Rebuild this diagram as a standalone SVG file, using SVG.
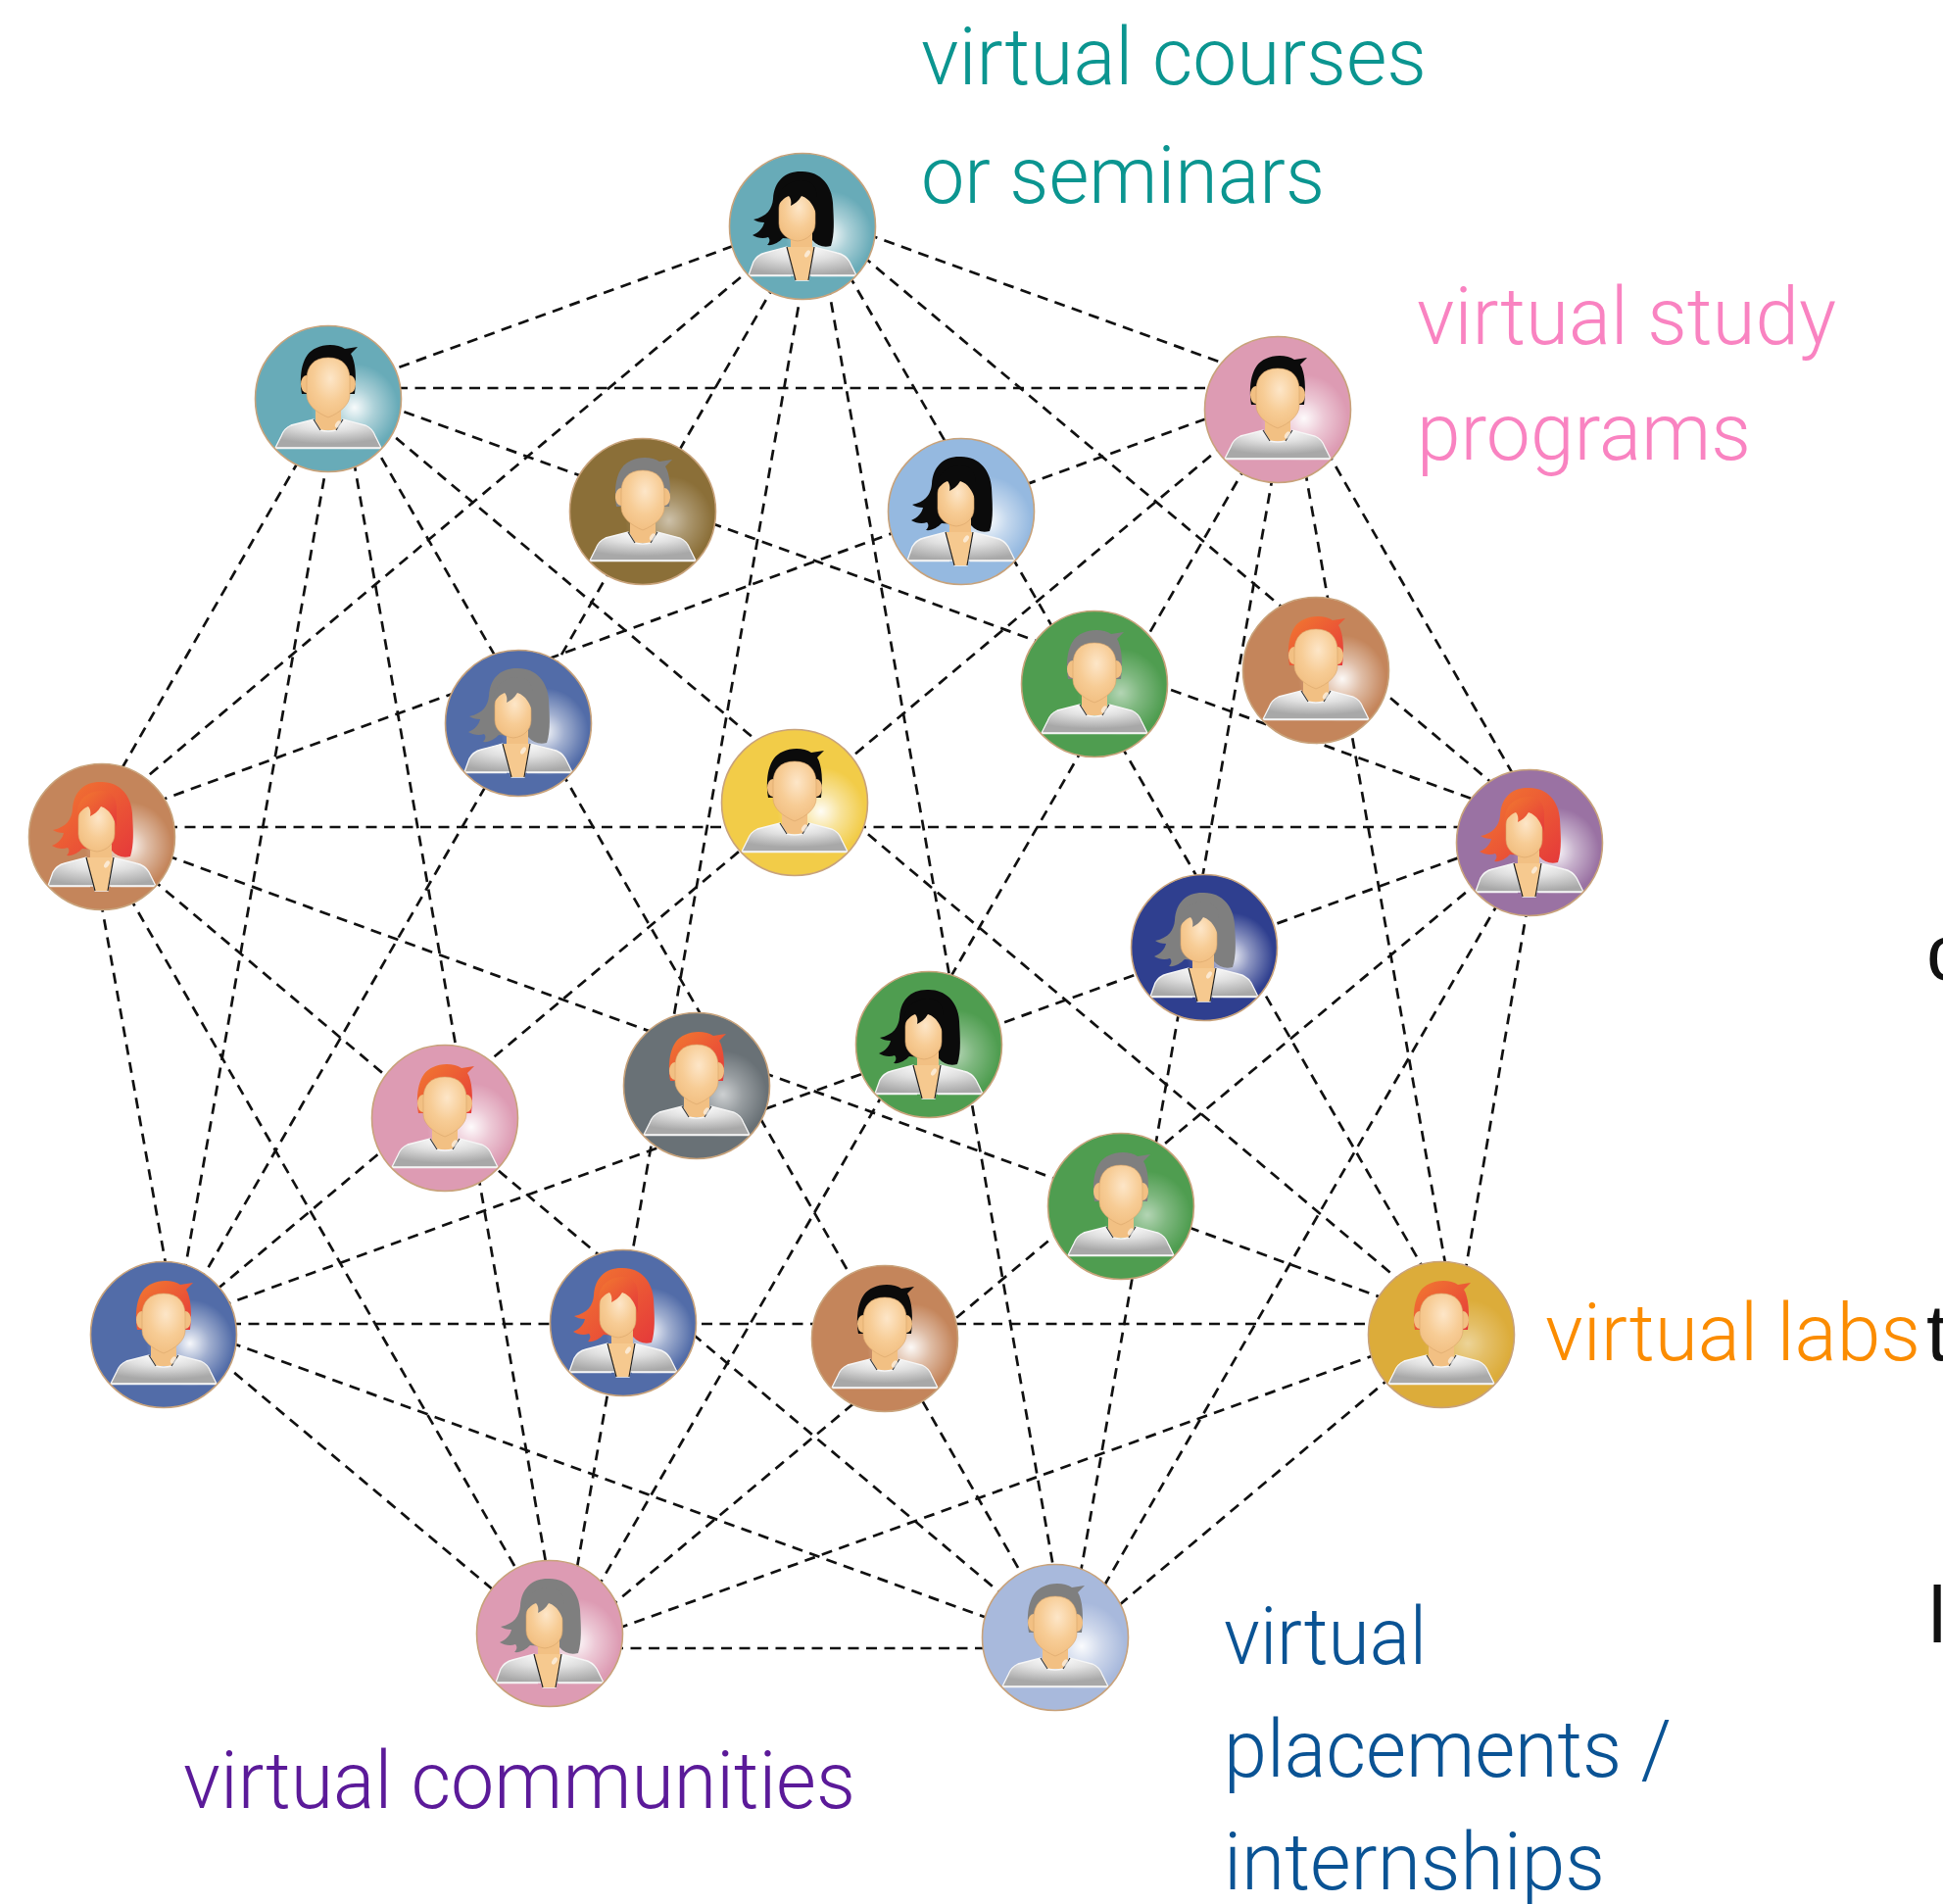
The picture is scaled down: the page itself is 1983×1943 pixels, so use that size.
<svg xmlns="http://www.w3.org/2000/svg" xmlns:xlink="http://www.w3.org/1999/xlink" width="1983" height="1943" viewBox="0 0 1983 1943">
  <style>
    .edge { stroke: #111; stroke-width: 2.7; stroke-dasharray: 11 7.5; fill: none; }
    .rim { fill: none; stroke: #c8a27a; stroke-width: 1.6; }
    .lbl { font-family: "Roboto", "Liberation Sans", sans-serif; font-weight: 300; font-size: 82px; }
    .edgeText { font-family: "Liberation Sans", sans-serif; font-size: 82px; fill: #111; }
  </style>
  <defs>
    <radialGradient id="glow" cx="0.68" cy="0.56" r="0.3">
      <stop offset="0" stop-color="#fff" stop-opacity="0.95"/>
      <stop offset="0.45" stop-color="#fff" stop-opacity="0.45"/>
      <stop offset="1" stop-color="#fff" stop-opacity="0"/>
    </radialGradient>
    <radialGradient id="skin" cx="0.55" cy="0.35" r="0.65">
      <stop offset="0" stop-color="#fde6c8"/>
      <stop offset="0.6" stop-color="#f7cc95"/>
      <stop offset="1" stop-color="#f2c083"/>
    </radialGradient>
    <radialGradient id="shirt" cx="0.5" cy="0.05" r="0.8">
      <stop offset="0" stop-color="#ffffff"/>
      <stop offset="0.45" stop-color="#e0e0e0"/>
      <stop offset="1" stop-color="#a8a8a8"/>
    </radialGradient>
    <linearGradient id="red" x1="0" y1="0" x2="1" y2="1">
      <stop offset="0" stop-color="#f27a30"/>
      <stop offset="1" stop-color="#e5393a"/>
    </linearGradient>

    <!-- man: hair is filled by the <use> that places it -->
    <path id="m-hair" d="M-27,-5 C-30,-25 -27,-46 -12,-52 C-4,-56 10,-56 17,-51 L30,-53 L23,-46 C28,-38 29,-22 27,-5 Z"/>
    <g id="m-body">
      <rect x="-13" y="2" width="26" height="30" fill="#f2c083"/>
      <path d="M-38,27 L-15,21 L-8,32 Q0,34 8,32 L15,21 L38,27 Q45,30 48,38 L54,50 L-54,50 L-48,38 Q-45,30 -38,27 Z" fill="url(#shirt)" stroke="#f6f6f6" stroke-width="1.3"/>
      <path d="M-15,21 L-8,32 M15,21 L8,32" stroke="#333" stroke-width="1.1" fill="none"/>
      <ellipse cx="-22.5" cy="-15" rx="5.5" ry="9" fill="#f2c083"/>
      <ellipse cx="22.5" cy="-15" rx="5.5" ry="9" fill="#f2c083"/>
      <path d="M0,-42 C14,-42 22,-34 22,-20 L22,-4 C22,6 12,14 0,19 C-12,14 -22,6 -22,-4 L-22,-20 C-22,-34 -14,-42 0,-42 Z" fill="url(#skin)" stroke="#d9a46a" stroke-width="0.6"/>
      <ellipse cx="10" cy="26" rx="2.5" ry="4" fill="#fff" opacity="0.6" transform="rotate(35 10 26)"/>
      <line x1="-54" y1="50.5" x2="54" y2="50.5" stroke="#f4f4f4" stroke-width="1.6"/>
    </g>

    <!-- woman: back hair and front fringe are filled by the <use> -->
    <path id="w-hairback" d="M-2,-56 C18,-57 30,-42 31,-24 C32,-6 33,8 29,20 C22,22 15,20 10,14 L-20,12 C-24,16 -30,20 -36,19 C-33,16 -33,13 -35,11 C-40,13 -46,12 -51,9 C-44,6 -40,1 -39,-4 C-44,-4 -47,-5 -50,-7 C-36,-10 -31,-18 -30,-28 C-29,-46 -18,-56 -2,-56 Z"/>
    <path id="w-fringe" d="M-25,-20 C-27,-38 -14,-47 0,-47 C9,-47 15,-40 15,-30 L15,-10 C12,-20 8,-28 -1,-31 C-4,-26 -8,-23 -12,-21 C-11,-25 -12,-29 -14,-31 C-19,-29 -23,-25 -25,-20 Z"/>
    <g id="w-body">
      <rect x="-12" y="2" width="22" height="28" fill="#f2c083"/>
      <path d="M-55,50 L-50,36 Q-46,29 -38,27 L-16,21 L-7,55 L6,55 L12,21 L35,27 Q44,29 48,36 L55,50 Z" fill="url(#shirt)" stroke="#f6f6f6" stroke-width="1.3"/>
      <path d="M-16,21 L12,21 L6,55 L-7,55 Z" fill="#f6c98f"/>
      <path d="M-16,21 L-7,55 M12,21 L6,55" stroke="#222" stroke-width="1.2" fill="none"/>
      <path d="M-6,-38 C6,-38 13,-30 13,-18 L13,-3 C13,7 5,14 -5,15 C-15,14 -24,7 -24,-3 L-24,-18 C-24,-30 -17,-38 -6,-38 Z" fill="url(#skin)" stroke="#d9a46a" stroke-width="0.6"/>
      <ellipse cx="5" cy="28" rx="2.2" ry="4" fill="#fff" opacity="0.6" transform="rotate(35 5 28)"/>
      <line x1="-55" y1="50.5" x2="-12" y2="50.5" stroke="#f4f4f4" stroke-width="1.6"/>
      <line x1="9" y1="50.5" x2="55" y2="50.5" stroke="#f4f4f4" stroke-width="1.6"/>
    </g>
  </defs>

  <rect width="1983" height="1943" fill="#fff"/>

  <!-- dashed links between the nine outer people; inner people sit on these lines -->
  <g id="connectors">
    <line class="edge" x1="390" y1="381" x2="765" y2="245"/>
    <line class="edge" x1="405" y1="396" x2="1240" y2="396"/>
    <line class="edge" x1="395" y1="414" x2="1510" y2="818"/>
    <line class="edge" x1="390" y1="435" x2="1430" y2="1308"/>
    <line class="edge" x1="380" y1="451" x2="1050" y2="1619"/>
    <line class="edge" x1="305" y1="470" x2="121" y2="790"/>
    <line class="edge" x1="334" y1="470" x2="188" y2="1300"/>
    <line class="edge" x1="361" y1="470" x2="558" y2="1600"/>
    <line class="edge" x1="770" y1="271" x2="140" y2="801"/>
    <line class="edge" x1="791" y1="290" x2="203" y2="1310"/>
    <line class="edge" x1="818" y1="295" x2="588" y2="1605"/>
    <line class="edge" x1="845" y1="290" x2="1076" y2="1605"/>
    <line class="edge" x1="866" y1="280" x2="1456" y2="1300"/>
    <line class="edge" x1="880" y1="261" x2="1525" y2="801"/>
    <line class="edge" x1="885" y1="239" x2="1255" y2="373"/>
    <line class="edge" x1="160" y1="818" x2="1240" y2="424"/>
    <line class="edge" x1="1250" y1="453" x2="220" y2="1317"/>
    <line class="edge" x1="1272" y1="475" x2="610" y2="1620"/>
    <line class="edge" x1="1299" y1="485" x2="1102" y2="1610"/>
    <line class="edge" x1="1332" y1="480" x2="1476" y2="1295"/>
    <line class="edge" x1="1354" y1="460" x2="1547" y2="795"/>
    <line class="edge" x1="170" y1="844" x2="1495" y2="844"/>
    <line class="edge" x1="170" y1="873" x2="1415" y2="1326"/>
    <line class="edge" x1="155" y1="897" x2="1025" y2="1629"/>
    <line class="edge" x1="132" y1="915" x2="532" y2="1610"/>
    <line class="edge" x1="103" y1="920" x2="170" y2="1295"/>
    <line class="edge" x1="225" y1="1333" x2="1495" y2="873"/>
    <line class="edge" x1="235" y1="1351" x2="1405" y2="1351"/>
    <line class="edge" x1="235" y1="1370" x2="1010" y2="1652"/>
    <line class="edge" x1="225" y1="1389" x2="510" y2="1628"/>
    <line class="edge" x1="1510" y1="899" x2="620" y2="1642"/>
    <line class="edge" x1="630" y1="1662" x2="1405" y2="1382"/>
    <line class="edge" x1="625" y1="1682" x2="1015" y2="1682"/>
    <line class="edge" x1="1559" y1="925" x2="1495" y2="1300"/>
    <line class="edge" x1="1420" y1="1405" x2="1135" y2="1644"/>
    <line class="edge" x1="1530" y1="920" x2="1123" y2="1625"/>
  </g>

  <g id="nodes">
    <g id="n1" transform="translate(819,231)">
      <circle r="74.5" fill="#68abb8"/><circle r="74.5" fill="url(#glow)"/>
      <use href="#w-hairback" fill="#0b0b0b"/><use href="#w-body"/><use href="#w-fringe" fill="#0b0b0b"/>
      <circle r="74.5" class="rim"/>
    </g>
    <g id="n2" transform="translate(335,407)">
      <circle r="74.5" fill="#68abb8"/><circle r="74.5" fill="url(#glow)"/>
      <use href="#m-hair" fill="#0b0b0b"/><use href="#m-body"/>
      <circle r="74.5" class="rim"/>
    </g>
    <g id="n3" transform="translate(1304,418)">
      <circle r="74.5" fill="#dd9bb3"/><circle r="74.5" fill="url(#glow)"/>
      <use href="#m-hair" fill="#0b0b0b"/><use href="#m-body"/>
      <circle r="74.5" class="rim"/>
    </g>
    <g id="n4" transform="translate(656,522)">
      <circle r="74.5" fill="#8b6f38"/><circle r="74.5" fill="url(#glow)" opacity="0.6"/>
      <use href="#m-hair" fill="#7f7f7f"/><use href="#m-body"/>
      <circle r="74.5" class="rim"/>
    </g>
    <g id="n5" transform="translate(981,522)">
      <circle r="74.5" fill="#95b9e0"/><circle r="74.5" fill="url(#glow)"/>
      <use href="#w-hairback" fill="#0b0b0b"/><use href="#w-body"/><use href="#w-fringe" fill="#0b0b0b"/>
      <circle r="74.5" class="rim"/>
    </g>
    <g id="n6" transform="translate(1117,698)">
      <circle r="74.5" fill="#4f9d50"/><circle r="74.5" fill="url(#glow)" opacity="0.6"/>
      <use href="#m-hair" fill="#7f7f7f"/><use href="#m-body"/>
      <circle r="74.5" class="rim"/>
    </g>
    <g id="n7" transform="translate(1343,684)">
      <circle r="74.5" fill="#c4855b"/><circle r="74.5" fill="url(#glow)"/>
      <use href="#m-hair" fill="url(#red)"/><use href="#m-body"/>
      <circle r="74.5" class="rim"/>
    </g>
    <g id="n8" transform="translate(529,738)">
      <circle r="74.5" fill="#526ca8"/><circle r="74.5" fill="url(#glow)"/>
      <use href="#w-hairback" fill="#7f7f7f"/><use href="#w-body"/><use href="#w-fringe" fill="#7f7f7f"/>
      <circle r="74.5" class="rim"/>
    </g>
    <g id="n9" transform="translate(104,854)">
      <circle r="74.5" fill="#c4855b"/><circle r="74.5" fill="url(#glow)"/>
      <use href="#w-hairback" fill="url(#red)"/><use href="#w-body"/><use href="#w-fringe" fill="url(#red)"/>
      <circle r="74.5" class="rim"/>
    </g>
    <g id="n10" transform="translate(811,819)">
      <circle r="74.5" fill="#f2cc48"/><circle r="74.5" fill="url(#glow)"/>
      <use href="#m-hair" fill="#0b0b0b"/><use href="#m-body"/>
      <circle r="74.5" class="rim"/>
    </g>
    <g id="n11" transform="translate(1561,860)">
      <circle r="74.5" fill="#9a72a3"/><circle r="74.5" fill="url(#glow)"/>
      <use href="#w-hairback" fill="url(#red)"/><use href="#w-body"/><use href="#w-fringe" fill="url(#red)"/>
      <circle r="74.5" class="rim"/>
    </g>
    <g id="n12" transform="translate(1229,967)">
      <circle r="74.5" fill="#2f3f8f"/><circle r="74.5" fill="url(#glow)"/>
      <use href="#w-hairback" fill="#7f7f7f"/><use href="#w-body"/><use href="#w-fringe" fill="#7f7f7f"/>
      <circle r="74.5" class="rim"/>
    </g>
    <g id="n13" transform="translate(948,1066)">
      <circle r="74.5" fill="#4f9d50"/><circle r="74.5" fill="url(#glow)" opacity="0.6"/>
      <use href="#w-hairback" fill="#0b0b0b"/><use href="#w-body"/><use href="#w-fringe" fill="#0b0b0b"/>
      <circle r="74.5" class="rim"/>
    </g>
    <g id="n14" transform="translate(711,1108)">
      <circle r="74.5" fill="#697176"/><circle r="74.5" fill="url(#glow)" opacity="0.7"/>
      <use href="#m-hair" fill="url(#red)"/><use href="#m-body"/>
      <circle r="74.5" class="rim"/>
    </g>
    <g id="n15" transform="translate(454,1141)">
      <circle r="74.5" fill="#dd9bb3"/><circle r="74.5" fill="url(#glow)"/>
      <use href="#m-hair" fill="url(#red)"/><use href="#m-body"/>
      <circle r="74.5" class="rim"/>
    </g>
    <g id="n16" transform="translate(1144,1231)">
      <circle r="74.5" fill="#4f9d50"/><circle r="74.5" fill="url(#glow)" opacity="0.6"/>
      <use href="#m-hair" fill="#7f7f7f"/><use href="#m-body"/>
      <circle r="74.5" class="rim"/>
    </g>
    <g id="n17" transform="translate(167,1362)">
      <circle r="74.5" fill="#526ca8"/><circle r="74.5" fill="url(#glow)"/>
      <use href="#m-hair" fill="url(#red)"/><use href="#m-body"/>
      <circle r="74.5" class="rim"/>
    </g>
    <g id="n18" transform="translate(636,1350)">
      <circle r="74.5" fill="#526ca8"/><circle r="74.5" fill="url(#glow)"/>
      <use href="#w-hairback" fill="url(#red)"/><use href="#w-body"/><use href="#w-fringe" fill="url(#red)"/>
      <circle r="74.5" class="rim"/>
    </g>
    <g id="n19" transform="translate(903,1366)">
      <circle r="74.5" fill="#c4855b"/><circle r="74.5" fill="url(#glow)"/>
      <use href="#m-hair" fill="#0b0b0b"/><use href="#m-body"/>
      <circle r="74.5" class="rim"/>
    </g>
    <g id="n20" transform="translate(1471,1362)">
      <circle r="74.5" fill="#dcac3a"/><circle r="74.5" fill="url(#glow)" opacity="0.5"/>
      <use href="#m-hair" fill="url(#red)"/><use href="#m-body"/>
      <circle r="74.5" class="rim"/>
    </g>
    <g id="n21" transform="translate(561,1667)">
      <circle r="74.5" fill="#dd9bb3"/><circle r="74.5" fill="url(#glow)"/>
      <use href="#w-hairback" fill="#7f7f7f"/><use href="#w-body"/><use href="#w-fringe" fill="#7f7f7f"/>
      <circle r="74.5" class="rim"/>
    </g>
    <g id="n22" transform="translate(1077,1671)">
      <circle r="74.5" fill="#a8b9dc"/><circle r="74.5" fill="url(#glow)"/>
      <use href="#m-hair" fill="#7f7f7f"/><use href="#m-body"/>
      <circle r="74.5" class="rim"/>
    </g>
  </g>

  <g id="labels">
    <text class="lbl" fill="#0b9590" x="940" y="86" textLength="516" lengthAdjust="spacingAndGlyphs">virtual courses</text>
    <text class="lbl" fill="#0b9590" x="940" y="207" textLength="412" lengthAdjust="spacingAndGlyphs">or seminars</text>
    <text class="lbl" fill="#f983c1" x="1446" y="351" textLength="428" lengthAdjust="spacingAndGlyphs">virtual study</text>
    <text class="lbl" fill="#f983c1" x="1446" y="469" textLength="341" lengthAdjust="spacingAndGlyphs">programs</text>
    <text class="lbl" fill="#fb8c00" x="1577" y="1388" textLength="383" lengthAdjust="spacingAndGlyphs">virtual labs</text>
    <text class="lbl" fill="#0a5394" x="1249" y="1698" textLength="207" lengthAdjust="spacingAndGlyphs">virtual</text>
    <text class="lbl" fill="#0a5394" x="1249" y="1813" textLength="457" lengthAdjust="spacingAndGlyphs">placements /</text>
    <text class="lbl" fill="#0a5394" x="1249" y="1928" textLength="389" lengthAdjust="spacingAndGlyphs">internships</text>
    <text class="lbl" fill="#5b1a99" x="187" y="1845" textLength="686" lengthAdjust="spacingAndGlyphs">virtual communities</text>
    <!-- letters of neighbouring text, cut by the right border -->
    <text class="edgeText" x="1966" y="1000">c</text>
    <text class="edgeText" x="1966" y="1388">t</text>
    <text class="edgeText" x="1968" y="1676">l</text>
  </g>
</svg>
